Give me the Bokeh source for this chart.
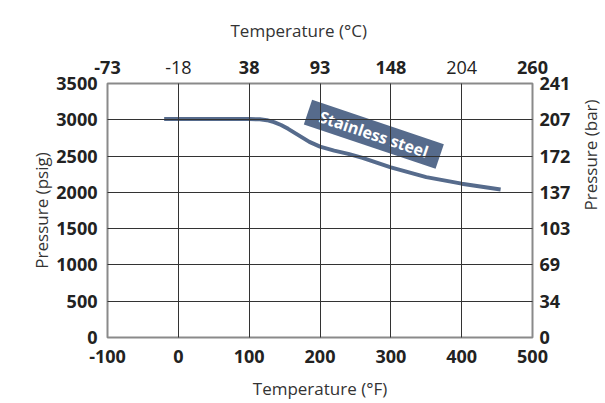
import math
from bokeh.plotting import figure
from bokeh.models import LinearAxis, FixedTicker, ColumnDataSource
from bokeh.core.properties import value
from bokeh.embed import file_html
from bokeh.resources import INLINE

# ---- data ----
temp_f = [-20, 0, 50, 100, 115, 125, 135, 145, 155, 170, 185, 200, 220, 240, 260, 300, 350, 400, 455]
pressure_psig = [3010, 3010, 3010, 3010, 3006, 2995, 2968, 2928, 2875, 2785, 2695, 2630, 2575, 2530, 2475, 2345, 2210, 2120, 2040]

f_ticks = [-100, 0, 100, 200, 300, 400, 500]
f_labels = ["-100", "0", "100", "200", "300", "400", "500"]
c_labels = ["-73", "-18", "38", "93", "148", "204", "260"]
c_bold = [True, False, True, True, True, False, True]
psig_ticks = [0, 500, 1000, 1500, 2000, 2500, 3000, 3500]
psig_labels = ["0", "500", "1000", "1500", "2000", "2500", "3000", "3500"]
bar_labels = ["0", "34", "69", "103", "137", "172", "207", "241"]

series_name = "Stainless steel"
label_f = 276
label_psig = 2800

FONT = "Open Sans"
LINE_COLOR = "#566b8c"
TICK_COLOR = "#222222"
TITLE_COLOR = "#333333"

p = figure(frame_width=425, frame_height=254,
           min_border_left=107, min_border_right=73,
           min_border_top=83, min_border_bottom=66,
           x_range=(-100, 500), y_range=(0, 3500),
           output_backend="svg", toolbar_location=None,
           x_axis_location="below", y_axis_location="left")
p.background_fill_color = "white"
p.border_fill_color = "white"
p.outline_line_color = "#8a8a8a"
p.outline_line_width = 2

# grid drawn above the curve
for g, t in ((p.xgrid, f_ticks), (p.ygrid, psig_ticks)):
    g.ticker = FixedTicker(ticks=t)
    g.grid_line_color = "#333333"
    g.grid_line_width = 1
    g.level = "guide"

def style_axis(ax, standoff, weight="bold"):
    ax.axis_line_color = None
    ax.major_tick_line_color = None
    ax.minor_tick_line_color = None
    ax.major_label_text_font = FONT
    ax.major_label_text_font_size = "18px"
    ax.major_label_text_font_style = weight
    ax.major_label_text_color = TICK_COLOR
    ax.major_label_standoff = standoff
    ax.axis_label_text_font = FONT
    ax.axis_label_text_font_size = "17px"
    ax.axis_label_text_font_style = "normal"
    ax.axis_label_text_color = TITLE_COLOR

# bottom axis (°F)
xa = p.xaxis[0]
xa.ticker = FixedTicker(ticks=f_ticks)
style_axis(xa, 6)
xa.major_label_overrides = dict(zip(f_ticks, f_labels))
xa.axis_label = "Temperature (°F)"
xa.axis_label_standoff = 11

# left axis (psig)
ya = p.yaxis[0]
ya.ticker = FixedTicker(ticks=psig_ticks)
style_axis(ya, 4)
ya.major_label_overrides = dict(zip(psig_ticks, psig_labels))
ya.axis_label = "Pressure (psig)"
ya.axis_label_standoff = 0

# top axis (°C) - bold labels
top = LinearAxis(ticker=FixedTicker(ticks=f_ticks))
style_axis(top, 4)
top.major_label_overrides = {t: (c if b else "") for t, c, b in zip(f_ticks, c_labels, c_bold)}
p.add_layout(top, "above")
# top axis (°C) - normal-weight labels, drawn on the same row
top2 = LinearAxis(ticker=FixedTicker(ticks=f_ticks))
style_axis(top2, -22, weight="normal")
top2.major_label_overrides = {t: ("" if b else c) for t, c, b in zip(f_ticks, c_labels, c_bold)}
p.add_layout(top2, "above")

# top title
p.title.text = "Temperature (°C)"
p.title.align = "left"
p.title.offset = 123
p.title.standoff = 31
p.title.text_font = FONT
p.title.text_font_size = "17px"
p.title.text_font_style = "normal"
p.title.text_color = TITLE_COLOR

# right axis (bar)
right = LinearAxis(ticker=FixedTicker(ticks=psig_ticks))
style_axis(right, 1)
right.major_label_overrides = dict(zip(psig_ticks, bar_labels))
right.axis_label = "Pressure (bar)"
right.axis_label_standoff = 17
try:
    right.axis_label_orientation = math.pi / 2
except Exception:
    pass
p.add_layout(right, "right")

# curve
src = ColumnDataSource(dict(x=temp_f, y=pressure_psig))
p.line("x", "y", source=src, line_color=LINE_COLOR, line_width=4, line_join="round")

# label box
ang = -18.6 * math.pi / 180
p.rect(x=[label_f], y=[label_psig], width=139, height=26, angle=ang,
       width_units="screen", height_units="screen",
       fill_color=LINE_COLOR, line_color=None)
p.text(x=[label_f], y=[label_psig], text=[series_name], angle=ang,
       text_align="center", text_baseline="middle",
       text_font=value(FONT), text_font_size="16px", text_font_style="bold",
       text_color="white")

open("out.html", "w").write(file_html(p, INLINE))
